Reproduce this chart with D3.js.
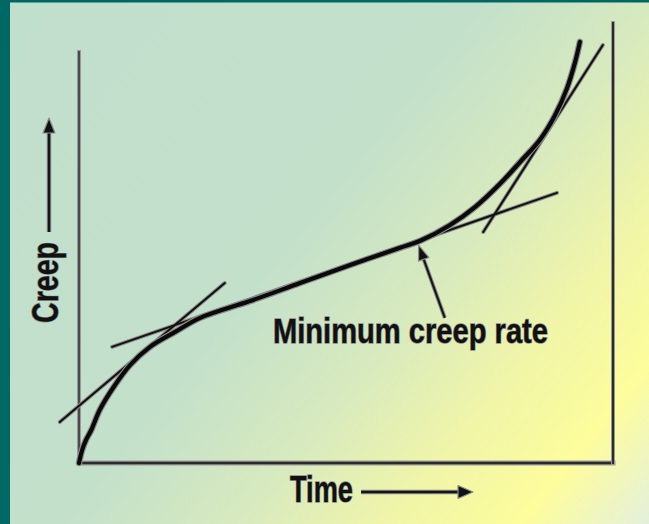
<!DOCTYPE html>
<html>
<head>
<meta charset="utf-8">
<script src="https://cdn.jsdelivr.net/npm/d3@7"></script>
<style>
  html, body { margin: 0; padding: 0; background: #c1dfcd; }
  svg { display: block; }
</style>
</head>
<body>
<svg id="chart" width="649" height="524"></svg>
<script>
// ---- data (arbitrary units: time 0-100, creep 0-100) ----
const timeVals  = [0, 0.6, 1.3, 2.3, 3.9, 6.4, 9.6, 13.3, 18.0, 22.7, 32.0, 41.4, 50.8, 60.1, 63.9, 69.5, 74.2, 78.8, 82.6, 86.4, 89.1, 91.4, 92.9, 93.8];
const creepVals = [0, 3.0, 5.2, 7.5, 12.1, 17.1, 22.3, 26.4, 29.8, 33.0, 36.8, 40.9, 45.0, 48.9, 50.5, 54.1, 58.2, 63.4, 68.4, 73.6, 78.9, 85.2, 91.1, 95.7];

const tangentNames = ["primary", "secondary", "tertiary"];
const tangentX1 = [-3.6, 6.2, 75.7];
const tangentY1 = [9.3, 26.4, 52.5];
const tangentX2 = [27.3, 89.5, 98.1];
const tangentY2 = [40.9, 61.4, 95.0];

const annotationText = "Minimum creep rate";
const annotationFrom = [68.5, 33.0];
const annotationTo   = [63.6, 49.5];

const xLabel = "Time";
const yLabel = "Creep";
const leftAxisTop = 93.4;

// ---- drawing ----
const svg = d3.select("#chart");
const W = 649, H = 524;

const x = d3.scaleLinear().domain([0, 100]).range([79, 613]);
const y = d3.scaleLinear().domain([0, 100]).range([463, 23]);

// background gradient
const defs = svg.append("defs");
const grad = defs.append("linearGradient").attr("id", "bg")
  .attr("gradientUnits", "userSpaceOnUse")
  .attr("x1", 0).attr("y1", 0).attr("x2", 649).attr("y2", 524);
[[0, "#c1dfcd"], [0.45, "#c3e0cb"], [0.62, "#d8eabe"], [0.76, "#f0f5a8"], [0.88, "#fdfd9c"], [1, "#e4f0dc"]]
  .forEach(([o, c]) => grad.append("stop").attr("offset", o).attr("stop-color", c));

svg.append("rect").attr("width", W).attr("height", H).attr("fill", "url(#bg)");
// teal frame (left and top)
svg.append("rect").attr("x", 0).attr("y", 0).attr("width", 10).attr("height", H).attr("fill", "#006864");
svg.append("rect").attr("x", 0).attr("y", 0).attr("width", W).attr("height", 2.5).attr("fill", "#006864");

// axes frame
const axisG = svg.append("g").attr("fill", "none").attr("stroke-linecap", "square");
axisG.append("line").attr("x1", x(0)).attr("x2", x(0)).attr("y1", y(0)).attr("y2", y(leftAxisTop))
  .attr("stroke", "#999").attr("stroke-width", 4);
axisG.append("line").attr("x1", x(0)).attr("x2", x(0)).attr("y1", y(0)).attr("y2", y(leftAxisTop))
  .attr("stroke", "#4a4a4a").attr("stroke-width", 2);
axisG.append("line").attr("x1", x(0)).attr("x2", x(100)).attr("y1", y(0)).attr("y2", y(0))
  .attr("stroke", "#999").attr("stroke-width", 5);
axisG.append("line").attr("x1", x(0)).attr("x2", x(100)).attr("y1", y(0)).attr("y2", y(0))
  .attr("stroke", "#2a2a2a").attr("stroke-width", 2.5);
axisG.append("line").attr("x1", x(100)).attr("x2", x(100)).attr("y1", y(0)).attr("y2", y(100))
  .attr("stroke", "#999").attr("stroke-width", 4);
axisG.append("line").attr("x1", x(100)).attr("x2", x(100)).attr("y1", y(0)).attr("y2", y(100))
  .attr("stroke", "#2a2a2a").attr("stroke-width", 2);

// tangent lines
const tangents = tangentNames.map((n, i) => ({ n, x1: tangentX1[i], y1: tangentY1[i], x2: tangentX2[i], y2: tangentY2[i] }));
const tg = svg.append("g").attr("stroke-linecap", "round");
tg.selectAll("line.halo").data(tangents).join("line").attr("class", "halo")
  .attr("x1", d => x(d.x1)).attr("y1", d => y(d.y1)).attr("x2", d => x(d.x2)).attr("y2", d => y(d.y2))
  .attr("stroke", "#8c8c8c").attr("stroke-width", 4);
tg.selectAll("line.core").data(tangents).join("line").attr("class", "core")
  .attr("x1", d => x(d.x1)).attr("y1", d => y(d.y1)).attr("x2", d => x(d.x2)).attr("y2", d => y(d.y2))
  .attr("stroke", "#111").attr("stroke-width", 2);

// creep curve
const pts = timeVals.map((t, i) => [t, creepVals[i]]);
const line = d3.line().x(d => x(d[0])).y(d => y(d[1])).curve(d3.curveCatmullRom.alpha(0.5));
svg.append("path").datum(pts).attr("d", line).attr("fill", "none")
  .attr("stroke", "#8c8c8c").attr("stroke-width", 6.5).attr("stroke-linecap", "round");
svg.append("path").datum(pts).attr("d", line).attr("fill", "none")
  .attr("stroke", "#0a0a0a").attr("stroke-width", 4.2).attr("stroke-linecap", "round");

// arrow helper
function arrow(g, x1, y1, x2, y2, headLen, headW, sw) {
  const ang = Math.atan2(y2 - y1, x2 - x1);
  const bx = x2 - headLen * Math.cos(ang), by = y2 - headLen * Math.sin(ang);
  const px = -Math.sin(ang) * headW / 2, py = Math.cos(ang) * headW / 2;
  [["#8c8c8c", sw + 2], ["#151515", sw]].forEach(([c, w]) => {
    g.append("line").attr("x1", x1).attr("y1", y1).attr("x2", bx).attr("y2", by)
      .attr("stroke", c).attr("stroke-width", w);
  });
  g.append("path")
    .attr("d", `M${x2},${y2}L${bx + px},${by + py}L${bx - px},${by - py}Z`)
    .attr("fill", "#111").attr("stroke", "#8c8c8c").attr("stroke-width", 1.2).attr("stroke-linejoin", "round");
}

const ag = svg.append("g");
// annotation pointer
arrow(ag, x(annotationFrom[0]), y(annotationFrom[1]), x(annotationTo[0]), y(annotationTo[1]), 15, 11, 2);
// y label arrow (up)
arrow(ag, 49, 232, 49, 118, 15, 12, 2.5);
// x label arrow (right)
arrow(ag, 361, 492, 473, 492, 15, 13, 2.5);

// texts
const font = "'Liberation Sans', Arial, sans-serif";
function label(sel) {
  return sel.attr("font-family", font).attr("fill", "#111").attr("font-weight", "bold")
    .attr("stroke", "#8c8c8c").attr("stroke-width", 1.4).attr("paint-order", "stroke")
    .attr("lengthAdjust", "spacingAndGlyphs");
}
label(svg.append("text").attr("x", 273).attr("y", 343).attr("font-size", 35).attr("textLength", 275)).text(annotationText);
label(svg.append("text").attr("x", 290).attr("y", 502).attr("font-size", 36).attr("textLength", 63)).text(xLabel);
label(svg.append("text").attr("transform", "translate(58,323) rotate(-90)").attr("font-size", 36).attr("textLength", 81)).text(yLabel);
</script>
</body>
</html>
